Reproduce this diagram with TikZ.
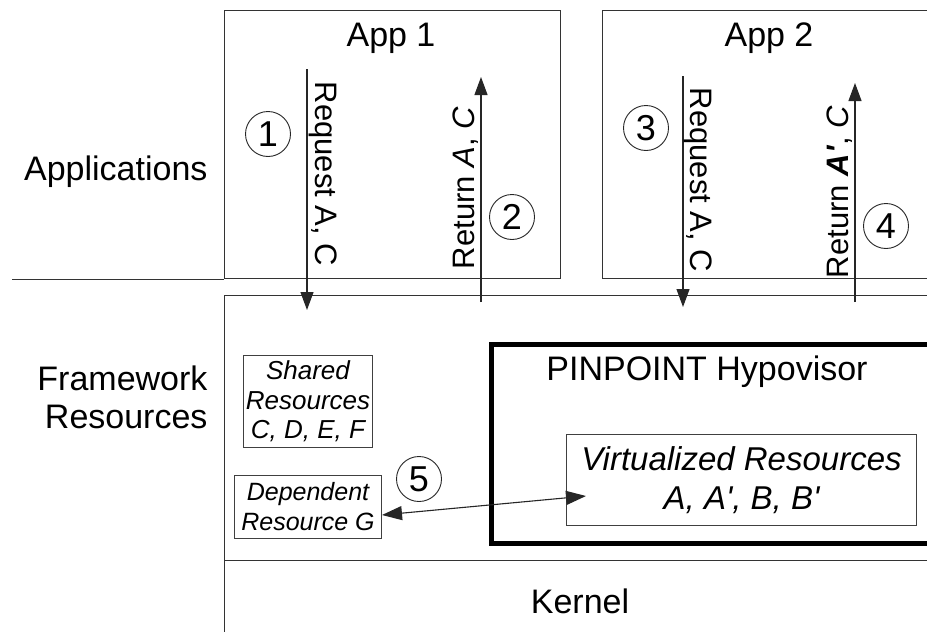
\documentclass[tikz,border=0pt]{standalone}
\usepackage{fontspec}
\setmainfont{Liberation Sans}
\usetikzlibrary{arrows.meta}
\tikzset{
  frame/.style={draw=black!80, line width=1.1pt, anchor=north west, inner sep=0pt},
  layerlabel/.style={font=\fontsize{34}{38}\selectfont, align=right, anchor=east},
  title/.style={font=\fontsize{34}{40}\selectfont},
  flow/.style={draw=black!85, line width=1.1pt, -{Triangle[length=18pt,width=13pt]}},
  flowlabel/.style={font=\fontsize{31}{36}\selectfont},
  stepmark/.style={circle, draw=black!85, line width=0.9pt, minimum size=45pt, inner sep=0pt, font=\fontsize{36}{36}\selectfont},
  resbox/.style={draw=black!75, line width=1pt, inner sep=0pt, align=center, font=\itshape}
}
\begin{document}
\begin{tikzpicture}[x=1pt, y=-1pt]
\useasboundingbox (0,0) rectangle (927,632);
\clip (0,0) rectangle (927,632);
\fill[white] (0,0) rectangle (927,632);

% layer boxes
\node[frame, minimum width=336pt, minimum height=268pt] (app1) at (224,10) {};
\node[frame, minimum width=340pt, minimum height=268pt] (app2) at (602,10) {};
\node[frame, minimum width=720pt, minimum height=265pt] (fw) at (224,295) {};
\node[frame, minimum width=720pt, minimum height=100pt] (kern) at (224,560) {};
\coordinate (sepL) at (12,278);
\draw[draw=black!80, line width=1.1pt] (app1.south west -| sepL) -- (app1.south west);

% layer names
\node[layerlabel] (lapp) at (211,172) {Applications};
\node[layerlabel] (lfw) at (211,397) {Framework\\Resources};

% titles
\node[title] (t1) at (391,38) {App 1};
\node[title] (t2) at (769,38) {App 2};
\node[title] (tk) at (580,601) {Kernel};

% hypovisor
\node[draw=black, line width=4.5pt, anchor=north west, minimum width=460pt, minimum height=199pt] (hyp) at (489,342) {};
\node[title] (th) at (707,372) {PINPOINT Hypovisor};
\node[resbox, anchor=north west, minimum width=350pt, minimum height=91pt,
      font=\itshape\fontsize{33}{39}\selectfont] (virt) at (566,434) {Virtualized Resources\\A, A\textquotesingle, B, B\textquotesingle};

% framework resources
\node[resbox, anchor=north west, minimum width=129pt, minimum height=92pt,
      font=\itshape\fontsize{26}{29.5}\selectfont] (shared) at (243,355) {Shared\\Resources\\C, D, E, F};
\node[resbox, anchor=north west, minimum width=147pt, minimum height=63pt,
      font=\itshape\fontsize{25}{30}\selectfont] (dep) at (234,475) {Dependent\\Resource G};

% request / return flows
\coordinate (r1s) at (307,69);  \coordinate (r1e) at (307,310);
\coordinate (r2s) at (481,302); \coordinate (r2e) at (481,77);
\coordinate (r3s) at (683,76);  \coordinate (r3e) at (683,307);
\coordinate (r4s) at (855,302); \coordinate (r4e) at (855,83);
\draw[flow] (r1s) -- (r1e);
\draw[flow] (r2s) -- (r2e);
\draw[flow] (r3s) -- (r3e);
\draw[flow] (r4s) -- (r4e);

\node[flowlabel, rotate=-90] (l1) at (323,174) {Request A, C};
\node[flowlabel, rotate=90] (l2) at (466,188) {Return \textit{A}, \textit{C}};
\node[flowlabel, rotate=-90] (l3) at (698,180) {Request A, C};
\node[flowlabel, rotate=90] (l4) at (840,192) {Return \textbf{\textit{A\textquotesingle}}, \textit{C}};

% step markers
\node[stepmark] (s1) at (268,134) {1};
\node[stepmark] (s2) at (512,217) {2};
\node[stepmark] (s3) at (646,128) {3};
\node[stepmark] (s4) at (886,226) {4};
\node[stepmark] (s5) at (419,479) {5};

% dependency link
\coordinate (dT) at (382,515);
\coordinate (vT) at (586,496);
\draw[draw=black!85, line width=1.1pt, {Triangle[length=20pt,width=14pt]}-{Triangle[length=20pt,width=14pt]}] (dT) -- (vT);
\end{tikzpicture}
\end{document}
